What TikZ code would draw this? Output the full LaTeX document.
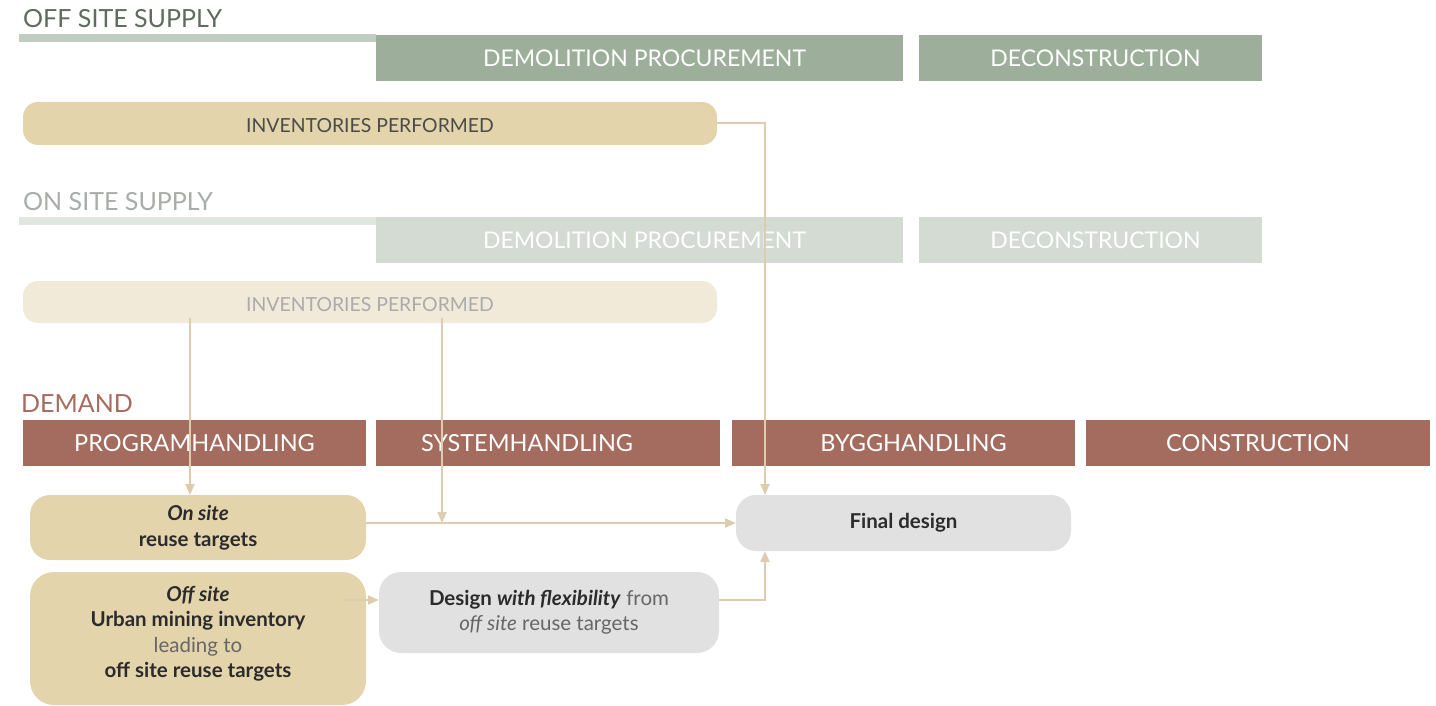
\documentclass[tikz,border=0pt]{standalone}
\usepackage{fontspec}
\setmainfont{Lato}
\usetikzlibrary{arrows.meta}
\definecolor{offbox}{HTML}{9DAF9A}
\definecolor{offbar}{HTML}{C2CDC1}
\definecolor{offtxt}{HTML}{5E6B5D}
\definecolor{onbox}{HTML}{D3DBD3}
\definecolor{onbar}{HTML}{E0E7E1}
\definecolor{ontxt}{HTML}{A9ADA9}
\definecolor{sand}{HTML}{E3D4AC}
\definecolor{sandlight}{HTML}{F2EAD8}
\definecolor{demandbox}{HTML}{A46C5E}
\definecolor{demandtxt}{HTML}{A76B5E}
\definecolor{greybox}{HTML}{E1E1E1}
\definecolor{conncol}{HTML}{DDCCB0}
\definecolor{darktxt}{HTML}{2B2B2B}
\definecolor{midtxt}{HTML}{666666}
\begin{document}
\begin{tikzpicture}[x=1pt,y=-1pt,
  hdr/.style={fill=#1,inner sep=0pt,outer sep=0pt,anchor=north west,text=white,
    text height=17pt,text depth=0pt,font=\fontsize{23.5}{27}\selectfont},
  supphdr/.style={hdr=#1,font=\fontsize{23}{27}\selectfont},
  title/.style={anchor=base west,inner sep=0pt,font=\fontsize{25}{29}\selectfont},
  rbox/.style={fill=#1,rounded corners=17pt,inner sep=0pt,outer sep=0pt,anchor=north west,
    align=center,text=darktxt,font=\fontsize{20.5}{25.5}\selectfont},
  invbox/.style={rbox=#1,minimum width=694pt,rounded corners=15pt,
    text height=18pt,text depth=0pt,font=\fontsize{19.4}{24}\selectfont},
  conn/.style={draw=conncol,line width=2pt},
  arr/.style={conn,-{Triangle[length=11pt,width=9pt]}}]
\useasboundingbox (0,0) rectangle (1436,706);
% ---- OFF SITE SUPPLY
\node[title,text=offtxt] (t1) at (23,28) {OFF SITE SUPPLY};
\fill[offbar] (19,34) rectangle (376,42);
\node[supphdr=offbox,minimum width=527pt,minimum height=46pt] (dp1) at (376,35) {\hspace*{10pt}DEMOLITION PROCUREMENT};
\node[supphdr=offbox,minimum width=343pt,minimum height=46pt] (dc1) at (919,35) {\hspace*{10pt}DECONSTRUCTION};
\node[invbox=sand,minimum height=43pt,text=darktxt!85] (inv1) at (23,102) {INVENTORIES PERFORMED};
% ---- ON SITE SUPPLY
\node[title,text=ontxt] (t2) at (23,211) {ON SITE SUPPLY};
\fill[onbar] (19,217) rectangle (376,225);
\node[supphdr=onbox,minimum width=527pt,minimum height=46pt] (dp2) at (376,217) {\hspace*{10pt}DEMOLITION PROCUREMENT};
\node[supphdr=onbox,minimum width=343pt,minimum height=46pt] (dc2) at (919,217) {\hspace*{10pt}DECONSTRUCTION};
\node[invbox=sandlight,minimum height=42pt,text=black!33] (inv2) at (23,281) {INVENTORIES PERFORMED};
% ---- DEMAND
\node[title,text=demandtxt] (t3) at (21,412) {DEMAND};
\node[hdr=demandbox,minimum width=343pt,minimum height=46pt] (ph) at (23,420) {PROGRAMHANDLING};
\node[hdr=demandbox,minimum width=344pt,minimum height=46pt] (sh) at (376,420) {\hspace*{-42pt}SYSTEMHANDLING};
\node[hdr=demandbox,minimum width=343pt,minimum height=46pt] (bh) at (732,420) {\hspace*{20pt}BYGGHANDLING};
\node[hdr=demandbox,minimum width=344pt,minimum height=46pt] (co) at (1086,420) {CONSTRUCTION};
% ---- boxes
\node[rbox=sand,minimum width=336pt,minimum height=65pt,rounded corners=20pt] (ons) at (30,495)
  {\textbf{\textit{On site}}\\\textbf{reuse targets}};
\node[rbox=sand,minimum width=336pt,minimum height=133pt,rounded corners=24pt] (offs) at (30,572) {};
\node[align=center,text=darktxt,font=\fontsize{20.5}{25.5}\selectfont,inner sep=0pt] (offst)
  at ([yshift=5pt]offs.center)
  {\textbf{\textit{Off site}}\\\textbf{Urban mining inventory}\\{\color{midtxt}leading to}\\\textbf{off site reuse targets}};
\node[rbox=greybox,minimum width=340pt,minimum height=81pt,rounded corners=22pt] (ds) at (379,572)
  {\textbf{Design \textit{with flexibility}} {\color{midtxt}from}\\{\color{midtxt}\textit{off site} reuse targets}};
\node[rbox=greybox,minimum width=335pt,minimum height=56pt,rounded corners=20pt] (fd) at (736,495)
  {\textbf{Final design}};
% ---- connectors
\coordinate (s1) at (190,318);
\coordinate (s2) at (442,318);
\coordinate (o1) at (343,600);
\coordinate (fdn) at ([xshift=29pt]fd.north west);
\coordinate (fds) at ([xshift=29pt]fd.south west);
\draw[arr] (inv1.east) -| (fdn);
\draw[arr] (s1) -- (s1 |- ons.north);
\draw[arr] (ons.east |- fd.west) -- (fd.west);
\draw[arr] (s2) -- (s2 |- fd.west);
\draw[arr] (o1) -- (o1 -| ds.west);
\draw[arr] (o1 -| ds.east) -| (fds);
\end{tikzpicture}
\end{document}
